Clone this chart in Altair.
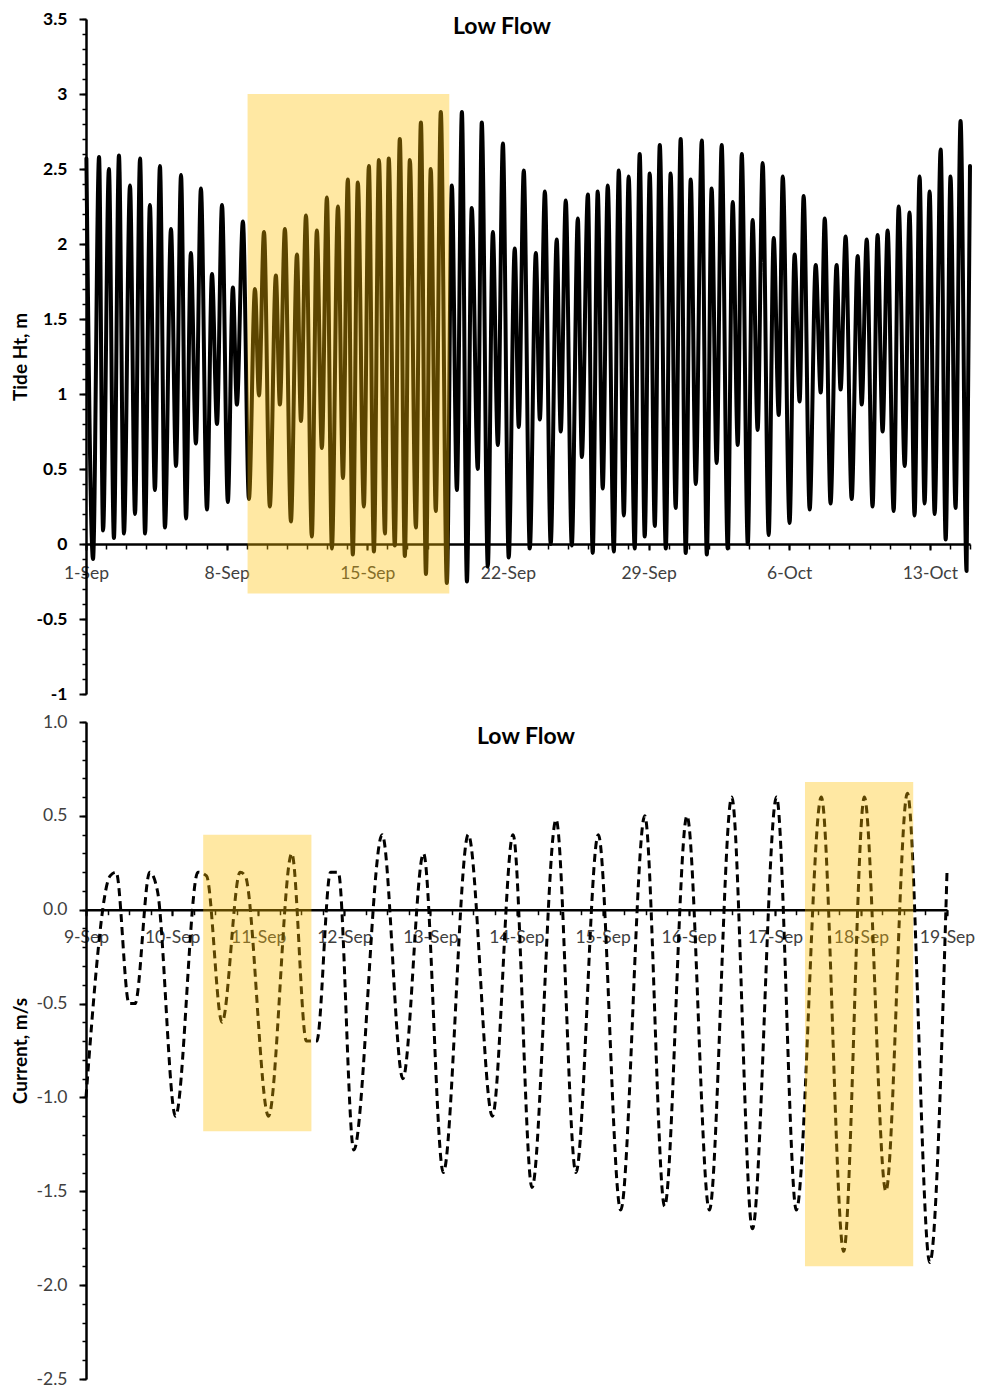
import altair as alt
import pandas as pd

# ---------------- data ----------------
# Top panel: tide extremes (days after 1-Sep 00:00) and heights (m)
tide_days = [
    0.02, 0.35, 0.65, 0.85, 1.14, 1.39, 1.64, 1.89, 2.19, 2.44,
    2.69, 2.94, 3.18, 3.43, 3.68, 3.93, 4.23, 4.48, 4.73, 4.98,
    5.22, 5.47, 5.72, 6.02, 6.27, 6.52, 6.77, 7.06, 7.31, 7.51,
    7.81, 8.11, 8.41, 8.61, 8.86, 9.15, 9.45, 9.65, 9.90, 10.20,
    10.50, 10.70, 10.95, 11.24, 11.49, 11.74, 11.99, 12.24, 12.54, 12.79,
    13.03, 13.28, 13.53, 13.83, 14.08, 14.33, 14.58, 14.88, 15.07, 15.37,
    15.62, 15.87, 16.12, 16.42, 16.67, 16.92, 17.16, 17.41, 17.66, 17.96,
    18.21, 18.46, 18.71, 18.96, 19.20, 19.50, 19.70, 20.00, 20.25, 20.50,
    20.75, 21.04, 21.34, 21.54, 21.79, 22.09, 22.39, 22.59, 22.84, 23.13,
    23.43, 23.63, 23.88, 24.18, 24.48, 24.68, 24.98, 25.22, 25.47, 25.72,
    25.97, 26.27, 26.52, 26.77, 27.01, 27.31, 27.56, 27.81, 28.06, 28.31,
    28.56, 28.86, 29.10, 29.35, 29.60, 29.85, 30.10, 30.35, 30.65, 30.90,
    31.14, 31.39, 31.64, 31.94, 32.19, 32.44, 32.64, 32.94, 33.18, 33.43,
    33.68, 33.98, 34.23, 34.48, 34.68, 35.02, 35.27, 35.52, 35.72, 36.02,
    36.32, 36.57, 36.77, 37.06, 37.36, 37.56, 37.81, 38.11, 38.41, 38.61,
    38.86, 39.15, 39.40, 39.65, 39.90, 40.20, 40.45, 40.75, 40.99, 41.24,
    41.49, 41.74, 41.99, 42.24, 42.54, 42.79, 43.03, 43.28, 43.53, 43.83,
    44.00,
]
tide_height = [
    2.57, -0.10, 2.58, 0.09, 2.50, 0.04, 2.59, 0.07, 2.39, 0.20,
    2.57, 0.07, 2.26, 0.36, 2.52, 0.11, 2.10, 0.52, 2.46, 0.17,
    1.94, 0.67, 2.37, 0.23, 1.80, 0.80, 2.26, 0.28, 1.71, 0.93,
    2.15, 0.30, 1.70, 0.99, 2.08, 0.25, 1.79, 0.93, 2.10, 0.15,
    1.93, 0.82, 2.19, 0.05, 2.09, 0.64, 2.31, -0.03, 2.25, 0.44,
    2.43, -0.07, 2.41, 0.25, 2.52, -0.05, 2.56, 0.07, 2.57, -0.01,
    2.70, -0.08, 2.56, 0.11, 2.81, -0.20, 2.50, 0.22, 2.88, -0.26,
    2.39, 0.36, 2.88, -0.25, 2.24, 0.50, 2.81, -0.15, 2.08, 0.66,
    2.67, -0.09, 1.97, 0.78, 2.49, -0.03, 1.94, 0.83, 2.35, 0.00,
    2.03, 0.75, 2.29, -0.01, 2.17, 0.58, 2.33, -0.06, 2.35, 0.37,
    2.39, -0.05, 2.49, 0.19, 2.45, -0.03, 2.60, 0.05, 2.47, 0.12,
    2.66, -0.03, 2.47, 0.24, 2.70, -0.06, 2.43, 0.40, 2.69, -0.07,
    2.37, 0.54, 2.66, -0.03, 2.28, 0.66, 2.60, 0.00, 2.16, 0.76,
    2.54, 0.06, 2.04, 0.86, 2.45, 0.14, 1.93, 0.95, 2.32, 0.23,
    1.86, 1.01, 2.17, 0.27, 1.86, 1.03, 2.05, 0.30, 1.92, 0.93,
    2.03, 0.25, 2.06, 0.75, 2.09, 0.22, 2.25, 0.52, 2.21, 0.19,
    2.45, 0.27, 2.35, 0.20, 2.63, 0.03, 2.45, 0.24, 2.82, -0.18,
    2.52,
]

# Bottom panel: current extremes (days after 9-Sep 00:00) and speed (m/s)
current_days = [
    0.00, 0.28, 0.35, 0.50, 0.57, 0.74, 0.83, 1.04, 1.30, 1.40,
    1.58, 1.79, 1.85, 2.12, 2.39, 2.56, 2.68, 2.84, 2.93, 3.11,
    3.44, 3.68, 3.92, 4.15, 4.44, 4.72, 4.96, 5.18, 5.46, 5.69,
    5.95, 6.21, 6.49, 6.72, 6.98, 7.24, 7.50, 7.74, 8.02, 8.25,
    8.54, 8.80, 9.04, 9.29, 9.54, 9.80, 10.00,
]
current_speed = [
    -1.00, 0.18, 0.20, -0.50, -0.50, 0.20, 0.10, -1.10, 0.20, 0.18,
    -0.60, 0.20, 0.18, -1.10, 0.30, -0.70, -0.70, 0.20, 0.20, -1.28,
    0.40, -0.90, 0.30, -1.40, 0.40, -1.10, 0.40, -1.48, 0.48, -1.40,
    0.40, -1.60, 0.50, -1.58, 0.50, -1.60, 0.60, -1.70, 0.60, -1.60,
    0.60, -1.82, 0.60, -1.50, 0.62, -1.88, 0.20,
]

# Highlight boxes
top_box_start = ["2023-09-09T01:00:00"]
top_box_end = ["2023-09-19T02:00:00"]
top_box_low = [-0.33]
top_box_high = [3.0]

bot_box_start = ["2023-09-10T08:40:00", "2023-09-17T08:25:00"]
bot_box_end = ["2023-09-11T14:50:00", "2023-09-18T14:35:00"]
bot_box_low = [-1.18, -1.90]
bot_box_high = [0.40, 0.68]

panel_title = ["Low Flow"]

# ---------------- tables ----------------
tide_df = pd.DataFrame({
    "time": pd.Timestamp("2023-09-01") + pd.to_timedelta(tide_days, unit="D"),
    "height": tide_height,
})
cur_df = pd.DataFrame({
    "time": pd.Timestamp("2023-09-09") + pd.to_timedelta(current_days, unit="D"),
    "speed": current_speed,
})
top_box = pd.DataFrame({"t1": top_box_start, "t2": top_box_end,
                        "v1": top_box_low, "v2": top_box_high})
bot_box = pd.DataFrame({"t1": bot_box_start, "t2": bot_box_end,
                        "v1": bot_box_low, "v2": bot_box_high})
title_df = pd.DataFrame({"t": panel_title})

FONT = "Lato"
LBL = "#404040"
BOX = "#FFC000"


def dt(m, d, h=0):
    return alt.DateTime(year=2023, month=m, date=d, hours=h)


# ---------------- top panel ----------------
TOP_W, TOP_H = 884, 675
top_x_scale = alt.Scale(domain=[dt(9, 1), dt(10, 15)])
top_y_scale = alt.Scale(domain=[-1, 3.5], nice=False, zero=False)
top_zero_off = -TOP_H * (1.0 / 4.5)

weekly = [dt(9, 1), dt(9, 8), dt(9, 15), dt(9, 22), dt(9, 29), dt(10, 6), dt(10, 13)]
daily_top = [dt(9, d) for d in range(1, 31)] + [dt(10, d) for d in range(1, 16)]
top_y_major = [-1, -0.5, 0, 0.5, 1, 1.5, 2, 2.5, 3, 3.5]
top_y_minor = [round(-1 + 0.1 * i, 1) for i in range(46)]

top_line = alt.Chart(tide_df).mark_line(
    color="black", strokeWidth=4, interpolate="monotone",
    strokeCap="round", strokeJoin="round"
).encode(
    x=alt.X("time:T", scale=top_x_scale, title=None,
            axis=alt.Axis(values=weekly, format="%-d-%b", orient="bottom",
                          offset=top_zero_off, tickSize=6, tickWidth=2,
                          tickColor="black", domainColor="black", domainWidth=2.5,
                          labelFont=FONT, labelFontSize=17.5, labelColor=LBL,
                          labelPadding=14, labelFlush=False, labelOverlap=False,
                          grid=False)),
    y=alt.Y("height:Q", scale=top_y_scale,
            axis=alt.Axis(values=top_y_major, labelExpr="toString(datum.value)",
                          title="Tide Ht, m", titleFont=FONT, titleFontSize=19,
                          titleFontWeight="bold", titleColor="black", titlePadding=6,
                          tickSize=7, tickWidth=2, tickColor="black",
                          domainColor="black", domainWidth=2.5,
                          labelFont=FONT, labelFontSize=17.5, labelFontWeight="bold",
                          labelColor="black", labelPadding=12, grid=False)),
)

top_rect = alt.Chart(top_box).mark_rect(color=BOX, opacity=0.36).encode(
    x=alt.X("t1:T", scale=top_x_scale, title=None,
            axis=alt.Axis(values=daily_top, orient="bottom", offset=top_zero_off,
                          labels=False, domain=False, tickSize=5, tickWidth=1.5,
                          tickColor="black", grid=False, title=None)),
    x2="t2:T",
    y=alt.Y("v1:Q", scale=top_y_scale, title=None,
            axis=alt.Axis(values=top_y_minor, orient="left", labels=False,
                          domain=False, tickSize=4, tickWidth=1.5,
                          tickColor="black", grid=False, title=None)),
    y2="v2:Q",
)

top_title = alt.Chart(title_df).mark_text(
    font=FONT, fontSize=23, fontWeight="bold", color="black",
    align="center", baseline="middle"
).encode(text="t:N", x=alt.value(416), y=alt.value(8))

top = alt.layer(top_line, top_rect, top_title).resolve_axis(
    x="independent", y="independent"
).properties(width=TOP_W, height=TOP_H)

# ---------------- bottom panel ----------------
BOT_W, BOT_H = 861, 657
bot_x_scale = alt.Scale(domain=[dt(9, 9), dt(9, 19)])
bot_y_scale = alt.Scale(domain=[-2.5, 1.0], nice=False, zero=False)
bot_zero_off = -BOT_H * (2.5 / 3.5)

daily_bot = [dt(9, d) for d in range(9, 20)]
six_hourly = [dt(9, d, h) for d in range(9, 19) for h in (0, 6, 12, 18)] + [dt(9, 19)]
bot_y_major = [-2.5, -2.0, -1.5, -1.0, -0.5, 0.0, 0.5, 1.0]
bot_y_minor = [round(-2.5 + 0.1 * i, 1) for i in range(36)]

bot_line = alt.Chart(cur_df).mark_line(
    color="black", strokeWidth=3, strokeDash=[8, 5], interpolate="monotone"
).encode(
    x=alt.X("time:T", scale=bot_x_scale, title=None,
            axis=alt.Axis(values=daily_bot, format="%-d-%b", orient="bottom",
                          offset=bot_zero_off, tickSize=6, tickWidth=2,
                          tickColor="black", domainColor="black", domainWidth=2.5,
                          labelFont=FONT, labelFontSize=17.5, labelColor=LBL,
                          labelPadding=13, labelFlush=False, labelOverlap=False,
                          grid=False)),
    y=alt.Y("speed:Q", scale=bot_y_scale,
            axis=alt.Axis(values=bot_y_major,
                          labelExpr="(datum.value < 0 ? '-' : '') + format(abs(datum.value), '.1f')",
                          title="Current, m/s", titleFont=FONT, titleFontSize=19,
                          titleFontWeight="bold", titleColor="black", titlePadding=6,
                          tickSize=7, tickWidth=2, tickColor="black",
                          domainColor="black", domainWidth=2.5,
                          labelFont=FONT, labelFontSize=17.5, labelFontWeight="normal",
                          labelColor=LBL, labelPadding=12, grid=False)),
)

bot_rect = alt.Chart(bot_box).mark_rect(color=BOX, opacity=0.36).encode(
    x=alt.X("t1:T", scale=bot_x_scale, title=None,
            axis=alt.Axis(values=six_hourly, orient="bottom", offset=bot_zero_off,
                          labels=False, domain=False, tickSize=5, tickWidth=1.5,
                          tickColor="black", grid=False, title=None)),
    x2="t2:T",
    y=alt.Y("v1:Q", scale=bot_y_scale, title=None,
            axis=alt.Axis(values=bot_y_minor, orient="left", labels=False,
                          domain=False, tickSize=4, tickWidth=1.5,
                          tickColor="black", grid=False, title=None)),
    y2="v2:Q",
)

bot_title = alt.Chart(title_df).mark_text(
    font=FONT, fontSize=23, fontWeight="bold", color="black",
    align="center", baseline="middle"
).encode(text="t:N", x=alt.value(440), y=alt.value(15))

bottom = alt.layer(bot_line, bot_rect, bot_title).resolve_axis(
    x="independent", y="independent"
).properties(width=BOT_W, height=BOT_H)

chart = alt.vconcat(top, bottom, spacing=10).properties(
    padding={"left": 3, "top": 2, "right": 0, "bottom": 0},
    background="white",
).configure(font=FONT).configure_view(strokeWidth=0, stroke="transparent")

chart.save("out.html", embed_options={"renderer": "svg", "actions": False})
